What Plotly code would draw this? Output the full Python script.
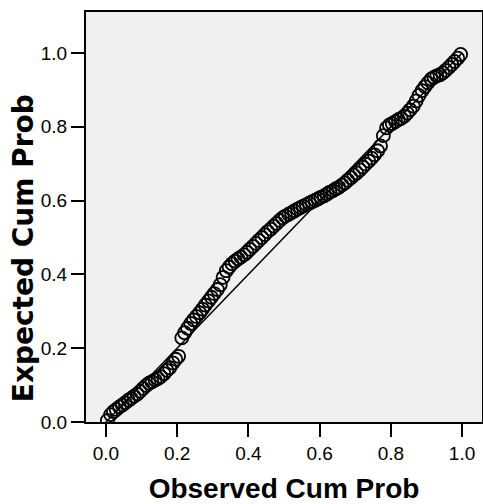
import plotly.graph_objects as go

# Observed cumulative probability (x) and expected cumulative probability (y)
observed = [0.004, 0.013, 0.021, 0.029, 0.038, 0.046, 0.054, 0.063, 0.071, 0.079,
            0.088, 0.096, 0.104, 0.113, 0.121, 0.129, 0.138, 0.146, 0.154, 0.163,
            0.171, 0.179, 0.188, 0.196, 0.204, 0.213, 0.221, 0.229, 0.238, 0.246,
            0.254, 0.263, 0.271, 0.279, 0.288, 0.296, 0.304, 0.313, 0.321, 0.329,
            0.338, 0.346, 0.354, 0.363, 0.371, 0.379, 0.388, 0.396, 0.404, 0.413,
            0.421, 0.429, 0.438, 0.446, 0.454, 0.463, 0.471, 0.479, 0.488, 0.496,
            0.504, 0.513, 0.521, 0.529, 0.538, 0.546, 0.554, 0.563, 0.571, 0.579,
            0.588, 0.596, 0.604, 0.613, 0.621, 0.629, 0.638, 0.646, 0.654, 0.663,
            0.671, 0.679, 0.688, 0.696, 0.704, 0.713, 0.721, 0.729, 0.738, 0.746,
            0.754, 0.763, 0.771, 0.779, 0.788, 0.796, 0.804, 0.813, 0.821, 0.829,
            0.838, 0.846, 0.854, 0.863, 0.871, 0.879, 0.888, 0.896, 0.904, 0.913,
            0.921, 0.929, 0.938, 0.946, 0.954, 0.963, 0.971, 0.979, 0.988, 0.996]
expected = [0.004, 0.020, 0.028, 0.034, 0.041, 0.046, 0.052, 0.059, 0.064, 0.070,
            0.076, 0.083, 0.091, 0.099, 0.105, 0.109, 0.114, 0.118, 0.123, 0.131,
            0.140, 0.147, 0.160, 0.170, 0.178, 0.228, 0.242, 0.254, 0.267, 0.277,
            0.286, 0.296, 0.306, 0.317, 0.328, 0.338, 0.348, 0.359, 0.372, 0.392,
            0.410, 0.420, 0.429, 0.436, 0.442, 0.447, 0.453, 0.460, 0.468, 0.476,
            0.484, 0.492, 0.500, 0.508, 0.516, 0.523, 0.531, 0.538, 0.546, 0.553,
            0.558, 0.563, 0.567, 0.572, 0.577, 0.581, 0.585, 0.589, 0.593, 0.597,
            0.601, 0.605, 0.609, 0.613, 0.618, 0.623, 0.627, 0.632, 0.636, 0.642,
            0.648, 0.655, 0.662, 0.669, 0.675, 0.683, 0.691, 0.699, 0.707, 0.715,
            0.724, 0.735, 0.748, 0.776, 0.797, 0.805, 0.809, 0.814, 0.819, 0.823,
            0.829, 0.837, 0.846, 0.856, 0.870, 0.885, 0.898, 0.909, 0.919, 0.929,
            0.934, 0.938, 0.941, 0.946, 0.953, 0.961, 0.969, 0.977, 0.986, 0.996]
ref_line = [0.0, 1.0]
tick_vals = [0.0, 0.2, 0.4, 0.6, 0.8, 1.0]
tick_text = ["0.0", "0.2", "0.4", "0.6", "0.8", "1.0"]

fig = go.Figure()
fig.add_trace(go.Scatter(x=ref_line, y=ref_line, mode="lines",
                         line=dict(color="black", width=1.5), showlegend=False,
                         hoverinfo="skip"))
fig.add_trace(go.Scatter(x=observed, y=expected, mode="markers",
                         marker=dict(symbol="circle-open", size=13, color="black",
                                     line=dict(width=1.8, color="black")),
                         showlegend=False))

axis_common = dict(showgrid=False, zeroline=False, showline=True, linecolor="black",
                   linewidth=2, mirror=True, ticks="outside", ticklen=13, tickwidth=1.5,
                   tickcolor="black", tickvals=tick_vals, ticktext=tick_text,
                   tickfont=dict(family="Liberation Sans, Arial", size=19, color="black"))

fig.update_layout(
    width=483, height=504,
    margin=dict(l=86, r=1, t=12, b=82),
    paper_bgcolor="white", plot_bgcolor="#F0F0F0",
    xaxis=dict(range=[-0.056, 1.056], automargin=False,
               title=dict(text="<b>Observed Cum Prob</b>", standoff=25,
                          font=dict(family="Liberation Sans, Arial", size=28, color="black")),
               **axis_common),
    yaxis=dict(range=[0, 1.111], automargin=False, **axis_common),
    annotations=[dict(text="<b>Expected Cum Prob</b>", textangle=-90,
                      xref="paper", yref="paper", x=-0.159, y=0.424,
                      xanchor="center", yanchor="middle", showarrow=False,
                      font=dict(family="DejaVu Sans", size=28, color="black"))],
)

fig.write_html("out.html", config={"displayModeBar": False},
               post_script="document.body.style.margin='0';")
